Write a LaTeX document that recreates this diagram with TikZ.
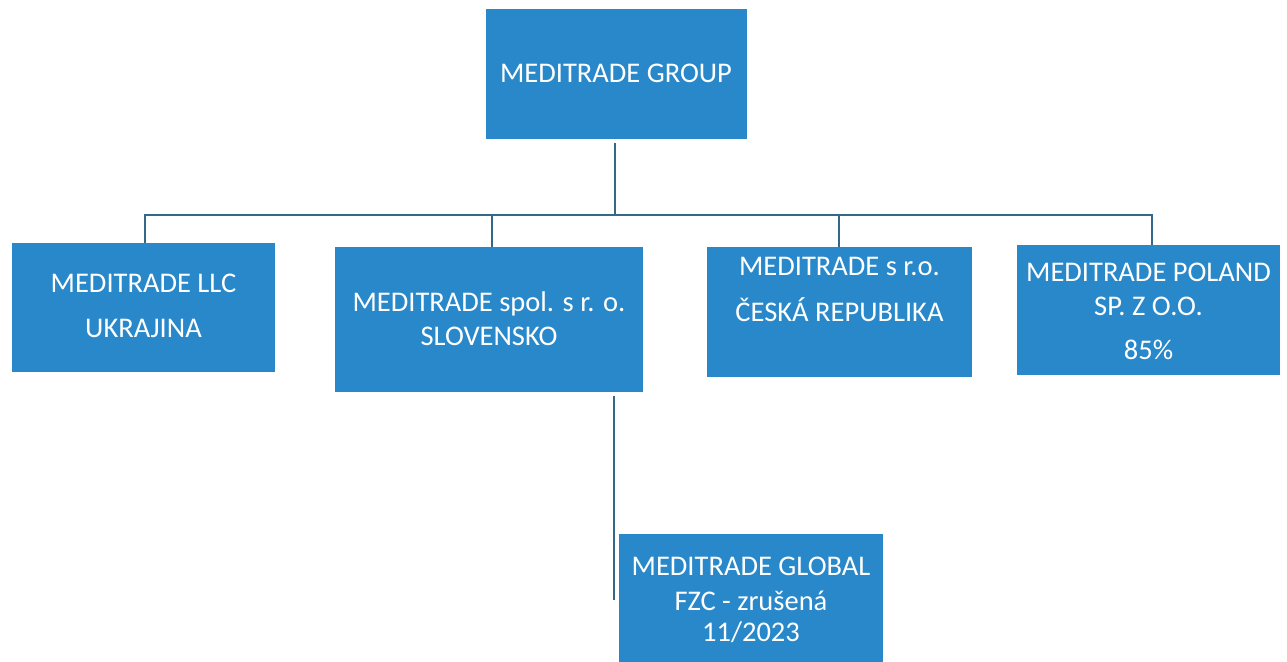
\documentclass[tikz,border=0pt]{standalone}
\usepackage{fontspec}
\setmainfont{Carlito}
\definecolor{boxblue}{RGB}{41,136,201}
\definecolor{linecol}{RGB}{52,104,138}
\begin{document}
\begin{tikzpicture}[x=1pt,y=-1pt,
  orgbox/.style={draw=none,fill=boxblue,inner sep=0pt,anchor=north west},
  lbl/.style={text=white,inner sep=0pt,font=\fontsize{28.5}{34}\selectfont,anchor=base},
  conn/.style={draw=linecol,line width=2pt}]
\useasboundingbox (0,0) rectangle (1287,661);
% boxes
\node[orgbox,minimum width=261pt,minimum height=130pt] (grp) at (486,9) {};
\node[orgbox,minimum width=263pt,minimum height=129pt] (llc) at (12,243) {};
\node[orgbox,minimum width=308pt,minimum height=145pt] (svk) at (335,247) {};
\node[orgbox,minimum width=265pt,minimum height=130pt] (cze) at (707,247) {};
\node[orgbox,minimum width=263pt,minimum height=130pt] (pol) at (1017,245) {};
\node[orgbox,minimum width=264pt,minimum height=130pt] (glb) at (619,534) {};
% labels
\node[lbl] (tgrp) at (616,82) {MEDITRADE GROUP};
\node[lbl] (tllc1) at (143.5,292) {MEDITRADE LLC};
\node[lbl] (tllc2) at (143.5,337) {UKRAJINA};
\node[lbl] (tsvk1) at (489,311) {MEDITRADE spol. s r. o.};
\node[lbl] (tsvk2) at (489,345) {SLOVENSKO};
\node[lbl] (tcze1) at (839.5,275) {MEDITRADE s r.o.};
\node[lbl] (tcze2) at (839.5,321) {ČESKÁ REPUBLIKA};
\node[lbl] (tpol1) at (1148.5,281) {MEDITRADE POLAND};
\node[lbl] (tpol2) at (1148.5,315) {SP. Z O.O.};
\node[lbl] (tpol3) at (1148.5,359) {85\%};
\node[lbl] (tglb1) at (751,575) {MEDITRADE GLOBAL};
\node[lbl] (tglb2) at (751,610) {FZC - zrušená};
\node[lbl] (tglb3) at (751,641) {11/2023};
% connectors
\coordinate (bus) at (615,215);
\coordinate (glbend) at (614,600);
\draw[conn] (grp.south -| bus) ++(0,4) -- (bus);
\draw[conn] (llc.north -| 145,0) -- (145,215) -- (1152,215) -- (pol.north -| 1152,0);
\draw[conn] (492,215) -- (svk.north -| 492,0);
\draw[conn] (839,215) -- (cze.north -| 839,0);
\draw[conn] (svk.south -| glbend) ++(0,4) -- (glbend);
\end{tikzpicture}
\end{document}
